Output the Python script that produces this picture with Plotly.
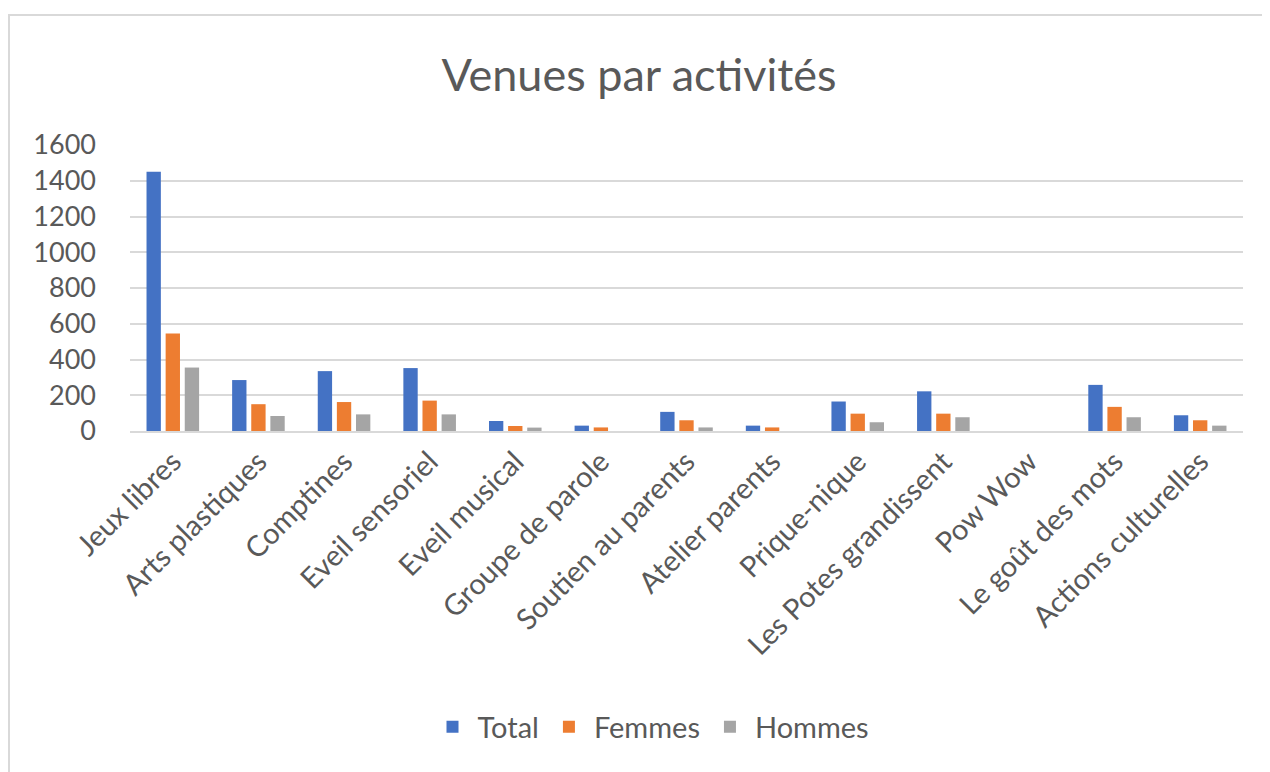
import plotly.graph_objects as go

categories = ["Jeux libres", "Arts plastiques", "Comptines", "Eveil sensoriel", "Eveil musical",
              "Groupe de parole", "Soutien au parents", "Atelier parents", "Prique-nique",
              "Les Potes grandissent", "Pow Wow", "Le goût des mots", "Actions culturelles"]
total = [1450, 285, 335, 352, 56, 30, 107, 30, 165, 222, 0, 258, 88]
femmes = [545, 150, 162, 170, 28, 20, 60, 20, 97, 97, 0, 135, 60]
hommes = [355, 84, 93, 93, 19, 0, 20, 0, 49, 77, 0, 77, 30]
yticks = [0, 200, 400, 600, 800, 1000, 1200, 1400, 1600]

FONT = "Lato, Open Sans, sans-serif"
TXT = "#595959"

W, H = 1262, 764
L, T, R, B = 122, 137, 27, 341
plot_w = W - L - R
plot_h = H - T - B

fig = go.Figure()
for name, vals, col in [("Total", total, "#4472C4"), ("Femmes", femmes, "#ED7D31"), ("Hommes", hommes, "#A5A5A5")]:
    fig.add_trace(go.Bar(x=categories, y=vals, name=name, marker=dict(color=col, line=dict(width=0))))

fig.update_layout(
    width=W, height=H,
    paper_bgcolor="white", plot_bgcolor="white",
    margin=dict(l=L, r=R, t=T, b=B),
    barmode="group", bargap=0.33, bargroupgap=0.25,
    font=dict(family=FONT, color=TXT, size=28),
    title=dict(text="Venues par activités", x=0.5, xanchor="center", y=1 - 67 / H, yanchor="middle",
               font=dict(family=FONT, size=45, color=TXT)),
    legend=dict(orientation="h", x=(643 - L) / plot_w, xanchor="center", y=(H - B - 719) / plot_h,
                yanchor="middle", font=dict(size=29, color=TXT), traceorder="normal", itemwidth=40),
    xaxis=dict(tickangle=-45, showgrid=False, showline=True, linecolor="#d9d9d9", linewidth=2,
               tickfont=dict(size=29, color=TXT), ticks=""),
    yaxis=dict(range=[0, 1600], tickvals=yticks, showgrid=True, gridcolor="#d9d9d9", gridwidth=2,
               zeroline=False, showline=False, tickfont=dict(size=27, color=TXT), ticks="",
               ticklabelstandoff=33),
    shapes=[dict(type="rect", xref="paper", yref="paper",
                 x0=(1 - L) / plot_w, x1=1.2, y0=-2, y1=(H - B - 7) / plot_h,
                 line=dict(color="#d9d9d9", width=2), fillcolor="rgba(0,0,0,0)", layer="below")],
)

fig.write_html("out.html")
